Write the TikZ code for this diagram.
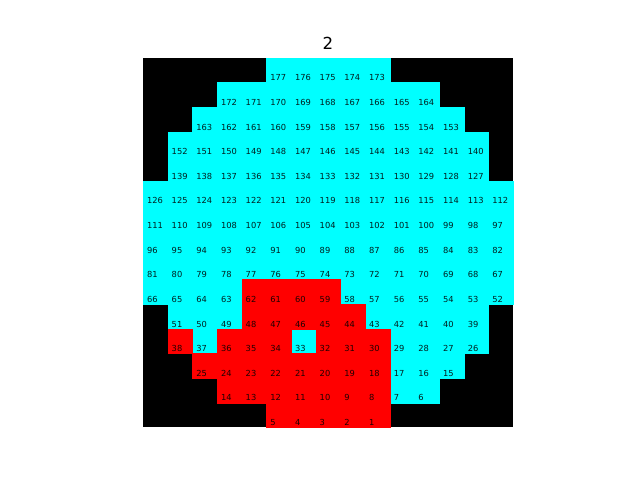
\documentclass[tikz,border=0pt]{standalone}
\usepackage{fontspec}
\setmainfont{DejaVu Sans}
\definecolor{cy}{RGB}{0,255,255}
\definecolor{rd}{RGB}{255,0,0}
\tikzset{
  cyancell/.style={fill=cy,draw=cy,line width=0.2pt},
  redcell/.style={fill=rd,draw=rd,line width=0.2pt},
  numlabel/.style={anchor=base west,inner sep=0pt,text=black,text opacity=0.88,font=\fontsize{6}{7}\selectfont},
  titlelabel/.style={anchor=base,inner sep=0pt,font=\fontsize{12}{14}\selectfont}
}
\begin{document}
\begin{tikzpicture}[x=0.01in,y=-0.01in]
\useasboundingbox (0,0) rectangle (640,480);
\fill[white] (0,0) rectangle (640,480);
\node[titlelabel] (title) at (328,49.5) {2};
\fill[black] (143,58) rectangle (513,427.3);
\def\cw{24.667}
\def\ch{24.62}
\foreach \r/\s/\e/\n in {0/5/9/177,1/3/11/172,2/2/12/163,3/1/13/152,4/1/13/139,5/0/14/126,6/0/14/111,7/0/14/96,8/0/14/81,9/0/14/66,10/1/13/51,11/1/13/38,12/2/12/25,13/3/11/14,14/5/9/5}{
  \foreach \c in {\s,...,\e}{
    \fill[cyancell] (143+\c*\cw,58+\r*\ch) rectangle ++(\cw,\ch);
  }
}
\foreach \r/\c in {9/4,9/5,9/6,9/7,10/4,10/5,10/6,10/7,10/8,11/1,11/3,11/4,11/5,11/7,11/8,11/9,12/2,12/3,12/4,12/5,12/6,12/7,12/8,12/9,13/3,13/4,13/5,13/6,13/7,13/8,13/9,14/5,14/6,14/7,14/8,14/9}{
  \fill[redcell] (143+\c*\cw,58+\r*\ch) rectangle ++(\cw,\ch);
}
\foreach \r/\s/\e/\n in {0/5/9/177,1/3/11/172,2/2/12/163,3/1/13/152,4/1/13/139,5/0/14/126,6/0/14/111,7/0/14/96,8/0/14/81,9/0/14/66,10/1/13/51,11/1/13/38,12/2/12/25,13/3/11/14,14/5/9/5}{
  \foreach \c in {\s,...,\e}{
    \pgfmathtruncatemacro\num{\n-\c+\s}
    \node[numlabel] (t\num) at (143+\c*\cw+3.8,58+\r*\ch+\ch-1.8) {\num};
  }
}
\end{tikzpicture}
\end{document}
